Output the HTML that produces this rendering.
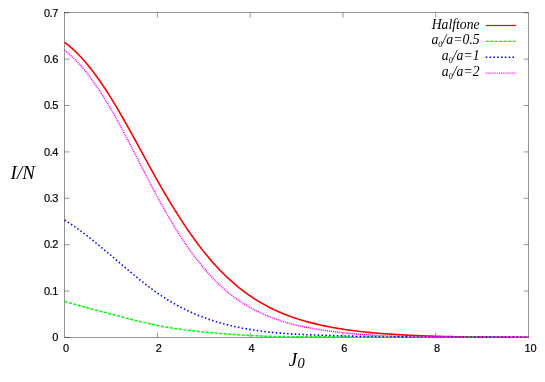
<!DOCTYPE html>
<html><head><meta charset="utf-8"><title>plot</title>
<style>html,body{margin:0;padding:0;background:#fff;}svg{display:block;}svg text{filter:grayscale(1);}</style></head>
<body><svg width="545" height="382" viewBox="0 0 545 382">
<rect width="545" height="382" fill="#fff"/>
<rect x="64.6" y="12.75" width="463.90" height="324.70" fill="none" stroke="#000" stroke-width="0.42"/>
<path d="M157.38,337.45V332.55M157.38,12.75V17.65M250.16,337.45V332.55M250.16,12.75V17.65M342.94,337.45V332.55M342.94,12.75V17.65M435.72,337.45V332.55M435.72,12.75V17.65M64.6,337.45H69.50M528.5,337.45H523.60M64.6,291.06H69.50M528.5,291.06H523.60M64.6,244.68H69.50M528.5,244.68H523.60M64.6,198.29H69.50M528.5,198.29H523.60M64.6,151.91H69.50M528.5,151.91H523.60M64.6,105.52H69.50M528.5,105.52H523.60M64.6,59.14H69.50M528.5,59.14H523.60M64.6,12.75H69.50M528.5,12.75H523.60" fill="none" stroke="#000" stroke-width="0.42"/>
<g font-family="Liberation Sans, sans-serif" font-size="11" fill="#000" stroke="#000" stroke-width="0.2"><text x="58.3" y="341.20" text-anchor="end">0</text><text x="58.3" y="294.81" text-anchor="end" textLength="14.3" lengthAdjust="spacing">0.1</text><text x="58.3" y="248.43" text-anchor="end" textLength="14.3" lengthAdjust="spacing">0.2</text><text x="58.3" y="202.04" text-anchor="end" textLength="14.3" lengthAdjust="spacing">0.3</text><text x="58.3" y="155.66" text-anchor="end" textLength="14.3" lengthAdjust="spacing">0.4</text><text x="58.3" y="109.27" text-anchor="end" textLength="14.3" lengthAdjust="spacing">0.5</text><text x="58.3" y="62.89" text-anchor="end" textLength="14.3" lengthAdjust="spacing">0.6</text><text x="58.3" y="16.50" text-anchor="end" textLength="14.3" lengthAdjust="spacing">0.7</text><text x="66.00" y="351.8" text-anchor="middle">0</text><text x="158.78" y="351.8" text-anchor="middle">2</text><text x="251.56" y="351.8" text-anchor="middle">4</text><text x="344.34" y="351.8" text-anchor="middle">6</text><text x="437.12" y="351.8" text-anchor="middle">8</text><text x="530.60" y="351.8" text-anchor="middle">10</text></g>
<path d="M64.60,42.38 L66.60,43.87 L68.60,45.46 L70.60,47.14 L72.60,48.90 L74.60,50.75 L76.60,52.69 L78.60,54.71 L80.60,56.81 L82.60,58.99 L84.60,61.26 L86.60,63.60 L88.59,66.02 L90.59,68.51 L92.59,71.08 L94.59,73.72 L96.59,76.44 L98.59,79.22 L100.59,82.07 L102.59,84.99 L104.59,87.98 L106.59,91.03 L108.59,94.15 L110.59,97.32 L112.59,100.56 L114.59,103.85 L116.59,107.20 L118.59,110.59 L120.59,114.03 L122.59,117.50 L124.59,121.02 L126.59,124.57 L128.59,128.14 L130.59,131.74 L132.59,135.36 L134.58,139.00 L136.58,142.66 L138.58,146.32 L140.58,149.98 L142.58,153.65 L144.58,157.32 L146.58,160.98 L148.58,164.63 L150.58,168.27 L152.58,171.88 L154.58,175.48 L156.58,179.05 L158.58,182.59 L160.58,186.10 L162.58,189.57 L164.58,193.01 L166.58,196.41 L168.58,199.76 L170.58,203.08 L172.58,206.36 L174.58,209.60 L176.58,212.79 L178.58,215.94 L180.57,219.05 L182.57,222.11 L184.57,225.13 L186.57,228.10 L188.57,231.03 L190.57,233.91 L192.57,236.73 L194.57,239.51 L196.57,242.24 L198.57,244.92 L200.57,247.54 L202.57,250.12 L204.57,252.63 L206.57,255.10 L208.57,257.51 L210.57,259.86 L212.57,262.16 L214.57,264.40 L216.57,266.58 L218.57,268.72 L220.57,270.80 L222.57,272.82 L224.57,274.80 L226.57,276.72 L228.56,278.60 L230.56,280.43 L232.56,282.20 L234.56,283.94 L236.56,285.62 L238.56,287.26 L240.56,288.85 L242.56,290.40 L244.56,291.91 L246.56,293.37 L248.56,294.80 L250.56,296.18 L252.56,297.52 L254.56,298.82 L256.56,300.09 L258.56,301.32 L260.56,302.51 L262.56,303.66 L264.56,304.78 L266.56,305.87 L268.56,306.92 L270.56,307.94 L272.56,308.93 L274.55,309.88 L276.55,310.81 L278.55,311.71 L280.55,312.57 L282.55,313.41 L284.55,314.23 L286.55,315.01 L288.55,315.77 L290.55,316.50 L292.55,317.21 L294.55,317.90 L296.55,318.56 L298.55,319.21 L300.55,319.83 L302.55,320.42 L304.55,321.00 L306.55,321.56 L308.55,322.11 L310.55,322.63 L312.55,323.14 L314.55,323.63 L316.55,324.11 L318.55,324.57 L320.54,325.02 L322.54,325.45 L324.54,325.87 L326.54,326.28 L328.54,326.68 L330.54,327.06 L332.54,327.44 L334.54,327.80 L336.54,328.15 L338.54,328.49 L340.54,328.81 L342.54,329.13 L344.54,329.44 L346.54,329.73 L348.54,330.02 L350.54,330.29 L352.54,330.56 L354.54,330.82 L356.54,331.07 L358.54,331.31 L360.54,331.54 L362.54,331.76 L364.54,331.98 L366.53,332.19 L368.53,332.39 L370.53,332.58 L372.53,332.76 L374.53,332.94 L376.53,333.12 L378.53,333.28 L380.53,333.44 L382.53,333.60 L384.53,333.74 L386.53,333.89 L388.53,334.03 L390.53,334.16 L392.53,334.29 L394.53,334.41 L396.53,334.53 L398.53,334.65 L400.53,334.76 L402.53,334.87 L404.53,334.98 L406.53,335.08 L408.53,335.18 L410.53,335.28 L412.52,335.37 L414.52,335.46 L416.52,335.55 L418.52,335.63 L420.52,335.72 L422.52,335.79 L424.52,335.87 L426.52,335.94 L428.52,336.01 L430.52,336.08 L432.52,336.15 L434.52,336.21 L436.52,336.27 L438.52,336.32 L440.52,336.38 L442.52,336.43 L444.52,336.48 L446.52,336.53 L448.52,336.58 L450.52,336.62 L452.52,336.66 L454.52,336.70 L456.52,336.74 L458.52,336.77 L460.51,336.81 L462.51,336.84 L464.51,336.87 L466.51,336.90 L468.51,336.92 L470.51,336.95 L472.51,336.97 L474.51,336.99 L476.51,337.01 L478.51,337.03 L480.51,337.05 L482.51,337.07 L484.51,337.08 L486.51,337.10 L488.51,337.11 L490.51,337.12 L492.51,337.13 L494.51,337.14 L496.51,337.15 L498.51,337.15 L500.51,337.16 L502.51,337.17 L504.51,337.17 L506.50,337.18 L508.50,337.18 L510.50,337.18 L512.50,337.18 L514.50,337.19 L516.50,337.19 L518.50,337.19 L520.50,337.19 L522.50,337.19 L524.50,337.19 L526.50,337.19 L528.50,337.19" fill="none" stroke="#ff0000" stroke-width="1.6"/>
<path d="M64.60,301.47 L66.60,302.05 L68.60,302.63 L70.60,303.20 L72.60,303.77 L74.60,304.33 L76.60,304.88 L78.60,305.43 L80.60,305.98 L82.60,306.52 L84.60,307.06 L86.60,307.59 L88.59,308.13 L90.59,308.66 L92.59,309.18 L94.59,309.71 L96.59,310.24 L98.59,310.76 L100.59,311.28 L102.59,311.81 L104.59,312.33 L106.59,312.86 L108.59,313.38 L110.59,313.91 L112.59,314.44 L114.59,314.97 L116.59,315.50 L118.59,316.03 L120.59,316.56 L122.59,317.09 L124.59,317.61 L126.59,318.14 L128.59,318.66 L130.59,319.18 L132.59,319.69 L134.58,320.20 L136.58,320.70 L138.58,321.20 L140.58,321.69 L142.58,322.17 L144.58,322.64 L146.58,323.11 L148.58,323.57 L150.58,324.01 L152.58,324.45 L154.58,324.88 L156.58,325.29 L158.58,325.69 L160.58,326.08 L162.58,326.46 L164.58,326.83 L166.58,327.18 L168.58,327.52 L170.58,327.85 L172.58,328.17 L174.58,328.48 L176.58,328.77 L178.58,329.06 L180.57,329.34 L182.57,329.61 L184.57,329.87 L186.57,330.12 L188.57,330.37 L190.57,330.61 L192.57,330.84 L194.57,331.06 L196.57,331.28 L198.57,331.49 L200.57,331.69 L202.57,331.90 L204.57,332.09 L206.57,332.28 L208.57,332.47 L210.57,332.66 L212.57,332.84 L214.57,333.02 L216.57,333.19 L218.57,333.36 L220.57,333.53 L222.57,333.69 L224.57,333.85 L226.57,334.01 L228.56,334.16 L230.56,334.31 L232.56,334.46 L234.56,334.60 L236.56,334.73 L238.56,334.86 L240.56,334.99 L242.56,335.11 L244.56,335.23 L246.56,335.35 L248.56,335.45 L250.56,335.56 L252.56,335.66 L254.56,335.75 L256.56,335.84 L258.56,335.93 L260.56,336.01 L262.56,336.08 L264.56,336.15 L266.56,336.21 L268.56,336.27 L270.56,336.33 L272.56,336.38 L274.55,336.42 L276.55,336.47 L278.55,336.51 L280.55,336.54 L282.55,336.57 L284.55,336.60 L286.55,336.63 L288.55,336.65 L290.55,336.67 L292.55,336.69 L294.55,336.71 L296.55,336.72 L298.55,336.74 L300.55,336.75 L302.55,336.76 L304.55,336.77 L306.55,336.78 L308.55,336.78 L310.55,336.79 L312.55,336.80 L314.55,336.80 L316.55,336.81 L318.55,336.81 L320.54,336.82 L322.54,336.83 L324.54,336.84 L326.54,336.84 L328.54,336.85 L330.54,336.86 L332.54,336.87 L334.54,336.88 L336.54,336.89 L338.54,336.90 L340.54,336.91 L342.54,336.92 L344.54,336.93 L346.54,336.94 L348.54,336.95 L350.54,336.96 L352.54,336.98 L354.54,336.99 L356.54,337.00 L358.54,337.01 L360.54,337.02 L362.54,337.03 L364.54,337.04 L366.53,337.05 L368.53,337.06 L370.53,337.08 L372.53,337.09 L374.53,337.10 L376.53,337.11 L378.53,337.12 L380.53,337.13 L382.53,337.14 L384.53,337.15 L386.53,337.15 L388.53,337.16 L390.53,337.17 L392.53,337.18 L394.53,337.18 L396.53,337.19 L398.53,337.20 L400.53,337.20 L402.53,337.21 L404.53,337.21 L406.53,337.21 L408.53,337.22 L410.53,337.22 L412.52,337.22 L414.52,337.22 L416.52,337.23 L418.52,337.23 L420.52,337.23 L422.52,337.23 L424.52,337.23 L426.52,337.23 L428.52,337.22 L430.52,337.22 L432.52,337.22 L434.52,337.22 L436.52,337.22 L438.52,337.22 L440.52,337.21 L442.52,337.21 L444.52,337.21 L446.52,337.21 L448.52,337.20 L450.52,337.20 L452.52,337.20 L454.52,337.19 L456.52,337.19 L458.52,337.19 L460.51,337.18 L462.51,337.18 L464.51,337.18 L466.51,337.17 L468.51,337.17 L470.51,337.17 L472.51,337.16 L474.51,337.16 L476.51,337.16 L478.51,337.15 L480.51,337.15 L482.51,337.15 L484.51,337.15 L486.51,337.15 L488.51,337.14 L490.51,337.14 L492.51,337.14 L494.51,337.14 L496.51,337.14 L498.51,337.14 L500.51,337.14 L502.51,337.14 L504.51,337.14 L506.50,337.15 L508.50,337.15 L510.50,337.15 L512.50,337.15 L514.50,337.16 L516.50,337.16 L518.50,337.17 L520.50,337.17 L522.50,337.18 L524.50,337.18 L526.50,337.19 L528.50,337.20" fill="none" stroke="#00ff00" stroke-width="1.5" stroke-dasharray="3.1 1.42"/>
<path d="M64.60,220.03 L66.60,221.29 L68.60,222.57 L70.60,223.89 L72.60,225.25 L74.60,226.63 L76.60,228.04 L78.60,229.48 L80.60,230.94 L82.60,232.43 L84.60,233.95 L86.60,235.48 L88.59,237.04 L90.59,238.62 L92.59,240.21 L94.59,241.82 L96.59,243.45 L98.59,245.09 L100.59,246.75 L102.59,248.41 L104.59,250.09 L106.59,251.77 L108.59,253.47 L110.59,255.17 L112.59,256.87 L114.59,258.58 L116.59,260.29 L118.59,262.00 L120.59,263.70 L122.59,265.41 L124.59,267.11 L126.59,268.80 L128.59,270.49 L130.59,272.17 L132.59,273.84 L134.58,275.49 L136.58,277.13 L138.58,278.76 L140.58,280.37 L142.58,281.97 L144.58,283.54 L146.58,285.09 L148.58,286.62 L150.58,288.12 L152.58,289.60 L154.58,291.06 L156.58,292.48 L158.58,293.87 L160.58,295.23 L162.58,296.56 L164.58,297.86 L166.58,299.12 L168.58,300.36 L170.58,301.56 L172.58,302.73 L174.58,303.87 L176.58,304.99 L178.58,306.07 L180.57,307.13 L182.57,308.15 L184.57,309.15 L186.57,310.12 L188.57,311.07 L190.57,311.99 L192.57,312.88 L194.57,313.75 L196.57,314.60 L198.57,315.41 L200.57,316.21 L202.57,316.98 L204.57,317.73 L206.57,318.46 L208.57,319.16 L210.57,319.85 L212.57,320.51 L214.57,321.15 L216.57,321.77 L218.57,322.37 L220.57,322.96 L222.57,323.52 L224.57,324.06 L226.57,324.59 L228.56,325.10 L230.56,325.59 L232.56,326.06 L234.56,326.52 L236.56,326.95 L238.56,327.38 L240.56,327.78 L242.56,328.18 L244.56,328.55 L246.56,328.91 L248.56,329.26 L250.56,329.60 L252.56,329.92 L254.56,330.22 L256.56,330.52 L258.56,330.80 L260.56,331.07 L262.56,331.33 L264.56,331.57 L266.56,331.81 L268.56,332.03 L270.56,332.25 L272.56,332.45 L274.55,332.64 L276.55,332.83 L278.55,333.01 L280.55,333.17 L282.55,333.33 L284.55,333.49 L286.55,333.63 L288.55,333.77 L290.55,333.90 L292.55,334.02 L294.55,334.14 L296.55,334.25 L298.55,334.35 L300.55,334.45 L302.55,334.55 L304.55,334.64 L306.55,334.73 L308.55,334.81 L310.55,334.89 L312.55,334.97 L314.55,335.04 L316.55,335.11 L318.55,335.18 L320.54,335.25 L322.54,335.31 L324.54,335.38 L326.54,335.44 L328.54,335.50 L330.54,335.56 L332.54,335.62 L334.54,335.68 L336.54,335.74 L338.54,335.79 L340.54,335.84 L342.54,335.90 L344.54,335.95 L346.54,336.00 L348.54,336.04 L350.54,336.09 L352.54,336.14 L354.54,336.18 L356.54,336.22 L358.54,336.27 L360.54,336.31 L362.54,336.35 L364.54,336.38 L366.53,336.42 L368.53,336.46 L370.53,336.49 L372.53,336.52 L374.53,336.56 L376.53,336.59 L378.53,336.62 L380.53,336.65 L382.53,336.67 L384.53,336.70 L386.53,336.72 L388.53,336.75 L390.53,336.77 L392.53,336.80 L394.53,336.82 L396.53,336.84 L398.53,336.86 L400.53,336.88 L402.53,336.89 L404.53,336.91 L406.53,336.92 L408.53,336.94 L410.53,336.95 L412.52,336.97 L414.52,336.98 L416.52,336.99 L418.52,337.00 L420.52,337.01 L422.52,337.02 L424.52,337.03 L426.52,337.04 L428.52,337.05 L430.52,337.05 L432.52,337.06 L434.52,337.06 L436.52,337.07 L438.52,337.07 L440.52,337.08 L442.52,337.08 L444.52,337.09 L446.52,337.09 L448.52,337.09 L450.52,337.09 L452.52,337.10 L454.52,337.10 L456.52,337.10 L458.52,337.10 L460.51,337.10 L462.51,337.10 L464.51,337.10 L466.51,337.10 L468.51,337.10 L470.51,337.11 L472.51,337.11 L474.51,337.11 L476.51,337.11 L478.51,337.11 L480.51,337.11 L482.51,337.11 L484.51,337.11 L486.51,337.11 L488.51,337.11 L490.51,337.11 L492.51,337.11 L494.51,337.12 L496.51,337.12 L498.51,337.12 L500.51,337.12 L502.51,337.13 L504.51,337.13 L506.50,337.13 L508.50,337.14 L510.50,337.14 L512.50,337.15 L514.50,337.15 L516.50,337.16 L518.50,337.17 L520.50,337.17 L522.50,337.18 L524.50,337.19 L526.50,337.20 L528.50,337.21" fill="none" stroke="#0000ff" stroke-width="1.6" stroke-dasharray="1.5 2.32"/>
<path d="M64.60,50.43 L66.60,52.00 L68.60,53.66 L70.60,55.42 L72.60,57.27 L74.60,59.21 L76.60,61.24 L78.60,63.36 L80.60,65.57 L82.60,67.87 L84.60,70.25 L86.60,72.72 L88.59,75.27 L90.59,77.90 L92.59,80.61 L94.59,83.40 L96.59,86.27 L98.59,89.22 L100.59,92.25 L102.59,95.35 L104.59,98.52 L106.59,101.77 L108.59,105.08 L110.59,108.47 L112.59,111.93 L114.59,115.45 L116.59,119.03 L118.59,122.66 L120.59,126.34 L122.59,130.06 L124.59,133.82 L126.59,137.62 L128.59,141.45 L130.59,145.30 L132.59,149.17 L134.58,153.06 L136.58,156.96 L138.58,160.86 L140.58,164.76 L142.58,168.66 L144.58,172.55 L146.58,176.43 L148.58,180.29 L150.58,184.12 L152.58,187.93 L154.58,191.70 L156.58,195.44 L158.58,199.13 L160.58,202.78 L162.58,206.37 L164.58,209.92 L166.58,213.41 L168.58,216.85 L170.58,220.24 L172.58,223.57 L174.58,226.85 L176.58,230.07 L178.58,233.23 L180.57,236.35 L182.57,239.40 L184.57,242.39 L186.57,245.33 L188.57,248.21 L190.57,251.03 L192.57,253.79 L194.57,256.49 L196.57,259.13 L198.57,261.70 L200.57,264.22 L202.57,266.67 L204.57,269.06 L206.57,271.38 L208.57,273.64 L210.57,275.83 L212.57,277.96 L214.57,280.02 L216.57,282.02 L218.57,283.96 L220.57,285.84 L222.57,287.66 L224.57,289.42 L226.57,291.13 L228.56,292.78 L230.56,294.38 L232.56,295.93 L234.56,297.42 L236.56,298.87 L238.56,300.26 L240.56,301.61 L242.56,302.92 L244.56,304.18 L246.56,305.40 L248.56,306.57 L250.56,307.71 L252.56,308.80 L254.56,309.86 L256.56,310.88 L258.56,311.87 L260.56,312.82 L262.56,313.75 L264.56,314.64 L266.56,315.49 L268.56,316.32 L270.56,317.12 L272.56,317.89 L274.55,318.63 L276.55,319.35 L278.55,320.04 L280.55,320.70 L282.55,321.34 L284.55,321.95 L286.55,322.54 L288.55,323.11 L290.55,323.66 L292.55,324.18 L294.55,324.69 L296.55,325.18 L298.55,325.65 L300.55,326.10 L302.55,326.53 L304.55,326.95 L306.55,327.35 L308.55,327.74 L310.55,328.11 L312.55,328.47 L314.55,328.82 L316.55,329.15 L318.55,329.48 L320.54,329.80 L322.54,330.10 L324.54,330.40 L326.54,330.69 L328.54,330.97 L330.54,331.24 L332.54,331.50 L334.54,331.75 L336.54,332.00 L338.54,332.23 L340.54,332.46 L342.54,332.68 L344.54,332.90 L346.54,333.10 L348.54,333.30 L350.54,333.49 L352.54,333.68 L354.54,333.86 L356.54,334.03 L358.54,334.19 L360.54,334.35 L362.54,334.50 L364.54,334.65 L366.53,334.78 L368.53,334.92 L370.53,335.05 L372.53,335.17 L374.53,335.28 L376.53,335.40 L378.53,335.50 L380.53,335.60 L382.53,335.70 L384.53,335.79 L386.53,335.88 L388.53,335.96 L390.53,336.04 L392.53,336.12 L394.53,336.19 L396.53,336.26 L398.53,336.32 L400.53,336.38 L402.53,336.44 L404.53,336.49 L406.53,336.54 L408.53,336.59 L410.53,336.64 L412.52,336.68 L414.52,336.72 L416.52,336.76 L418.52,336.79 L420.52,336.82 L422.52,336.85 L424.52,336.88 L426.52,336.90 L428.52,336.93 L430.52,336.95 L432.52,336.97 L434.52,336.98 L436.52,337.00 L438.52,337.01 L440.52,337.02 L442.52,337.03 L444.52,337.04 L446.52,337.05 L448.52,337.06 L450.52,337.06 L452.52,337.06 L454.52,337.07 L456.52,337.07 L458.52,337.07 L460.51,337.07 L462.51,337.07 L464.51,337.07 L466.51,337.06 L468.51,337.06 L470.51,337.06 L472.51,337.06 L474.51,337.05 L476.51,337.05 L478.51,337.05 L480.51,337.04 L482.51,337.04 L484.51,337.04 L486.51,337.04 L488.51,337.03 L490.51,337.03 L492.51,337.03 L494.51,337.03 L496.51,337.03 L498.51,337.03 L500.51,337.03 L502.51,337.04 L504.51,337.04 L506.50,337.05 L508.50,337.05 L510.50,337.06 L512.50,337.07 L514.50,337.08 L516.50,337.10 L518.50,337.11 L520.50,337.13 L522.50,337.14 L524.50,337.16 L526.50,337.19 L528.50,337.21" fill="none" stroke="#ff00ff" stroke-width="1.5" stroke-dasharray="1.05 0.9"/>
<path d="M485.8,25.5H516.1" stroke="#ff0000" stroke-width="1.2" fill="none"/>
<path d="M485.7,41.4H516.5" stroke="#00ff00" stroke-width="1.2" fill="none" stroke-dasharray="3.1 1.42"/>
<path d="M485.7,57.3H516" stroke="#0000ff" stroke-width="1.5" fill="none" stroke-dasharray="1.6 2.22"/>
<path d="M485.7,73.2H515.3" stroke="#ff00ff" stroke-width="1.2" fill="none" stroke-dasharray="1 0.9"/>
<g font-family="Liberation Serif, serif" font-style="italic" font-size="13.7" fill="#000"><text x="479.6" y="28.8" text-anchor="end">Halftone</text><text x="479.5" y="44.3" text-anchor="end">a<tspan font-size="8.5" dy="2.7">0</tspan><tspan dy="-2.7">/a=0.5</tspan></text><text x="479.5" y="60.0" text-anchor="end">a<tspan font-size="8.5" dy="2.7">0</tspan><tspan dy="-2.7">/a=1</tspan></text><text x="479.5" y="75.8" text-anchor="end">a<tspan font-size="8.5" dy="2.7">0</tspan><tspan dy="-2.7">/a=2</tspan></text></g>
<g font-family="Liberation Serif, serif" font-style="italic" font-size="19" fill="#000"><text x="10.6" y="179">I/N</text><text x="288.8" y="366">J<tspan font-size="14.5" dy="2.4" dx="0.3">0</tspan></text></g>
</svg></body></html>
